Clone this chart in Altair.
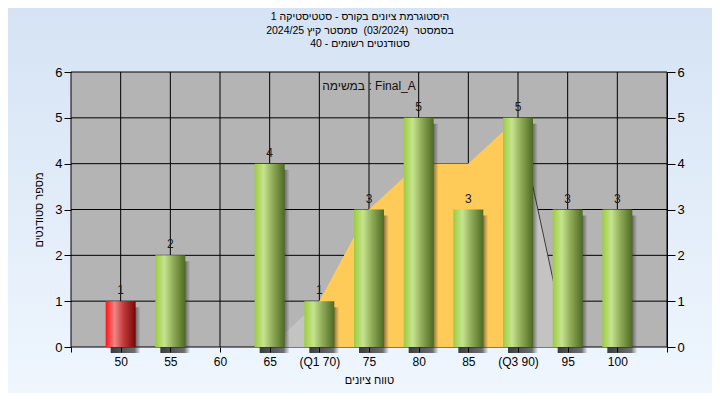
import altair as alt
import pandas as pd

# ---------------- data ----------------
grades = [50, 55, 60, 65, 70, 75, 80, 85, 90, 95, 100]
counts = [1, 2, 0, 4, 1, 3, 5, 3, 5, 3, 3]
tick_labels = ["50", "55", "60", "65", "(Q1 70)", "75", "80", "85", "(Q3 90)", "95", "100"]
x_grid = [45, 50, 55, 60, 65, 70, 75, 80, 85, 90, 95, 100, 105]
y_ticks = [0, 1, 2, 3, 4, 5, 6]
curve_grades = [65, 70, 75, 80, 85, 90, 95]
curve_counts = [0, 1, 3, 4, 4, 5, 0]
q1, q3 = 70, 90
pass_mark = 55

title_lines = [
    "היסטוגרמת ציונים בקורס - סטטיסטיקה 1",
    "בסמסטר\u00a0 (03/2024)\u00a0 סמסטר קיץ 2024/25",
    "סטודנטים רשומים - 40",
]
x_title = "טווח ציונים"
y_title = "מספר סטודנטים"
task_text = "במשימה : Final_A"

# ---------------- layout ----------------
W, H = 596, 275
PAD = {"left": 63, "top": 64, "right": 45, "bottom": 46}
FONT = "Liberation Sans"

bars_df = pd.DataFrame({"grade": grades, "count": counts})
curve_df = pd.DataFrame({"grade": curve_grades, "count": curve_counts})
xgrid_df = pd.DataFrame({"grade": x_grid})
ygrid_df = pd.DataFrame({"tick": y_ticks})

expr = "''"
for v, lab in reversed(list(zip(grades, tick_labels))):
    expr = f"datum.value == {v} ? '{lab}' : ({expr})"

xscale = alt.Scale(domain=[45, 105], nice=False, zero=False, padding=0)
yscale = alt.Scale(domain=[0, 6], nice=False, padding=0)

xaxis = alt.Axis(values=x_grid, labelExpr=expr, title=x_title, grid=False, domain=False,
                 tickSize=5, tickColor="#000", labelPadding=4, labelFontSize=12,
                 labelColor="#000", labelFont=FONT, labelFlush=False, labelAngle=0,
                 titleFont=FONT, titleFontSize=11, titleFontWeight="normal",
                 titleColor="#000", titlePadding=7, zindex=1)

left_axis = alt.Axis(values=y_ticks, orient="left", title=y_title, grid=False, domain=False,
                     tickSize=7, tickColor="#000", labelPadding=2, labelFontSize=13,
                     labelColor="#000", labelFont=FONT, titleFont=FONT, titleFontSize=11,
                     titleFontWeight="normal", titleColor="#000", titlePadding=10, zindex=1)
right_axis = alt.Axis(values=y_ticks, orient="right", title="", grid=False, domain=True,
                      domainColor="#000", tickSize=8, tickColor="#000", labelPadding=2,
                      labelFontSize=13, labelColor="#000", labelFont=FONT, zindex=1)


def X(field="grade"):
    return alt.X(f"{field}:Q", scale=xscale, axis=xaxis)


def Y(field="count", axis=None):
    return alt.Y(f"{field}:Q", scale=yscale, axis=axis)


one = alt.Data(values=[{}])

bg = alt.Chart(one).mark_rect(
    fill=alt.Gradient(gradient="linear", x1=0, y1=0, x2=0, y2=1,
                      stops=[alt.GradientStop(color="#d5e3f4", offset=0),
                             alt.GradientStop(color="#eff6fe", offset=1)])
).encode(x=alt.value(-PAD["left"]), x2=alt.value(W + PAD["right"]),
         y=alt.value(-PAD["top"]), y2=alt.value(H + PAD["bottom"]))

plot_bg = alt.Chart(one).mark_rect(fill="#b4b4b4").encode(
    x=alt.value(0), x2=alt.value(W), y=alt.value(0), y2=alt.value(H))

vgrid = alt.Chart(xgrid_df).mark_rule(color="#000", strokeWidth=1).encode(
    x=X(), y=alt.value(0), y2=alt.value(H))

hgrid = alt.Chart(ygrid_df).mark_rule(color="#000", strokeWidth=1).encode(
    y=Y("tick", left_axis), x=alt.value(0), x2=alt.value(W))

gray_area = alt.Chart(curve_df).mark_area(color="#c3c3c3", opacity=1).encode(
    x=X(), y=Y())

yellow_area = alt.Chart(curve_df).transform_filter(
    f"datum.grade >= {q1} && datum.grade <= {q3}"
).mark_area(color="#ffcb58", opacity=1).encode(x=X(), y=Y())

edge_line = alt.Chart(curve_df).transform_filter(
    f"datum.grade >= {q3}"
).mark_line(color="#3a3a3a", strokeWidth=1).encode(x=X(), y=Y())

shadow = alt.Chart(bars_df).transform_filter("datum.count > 0").mark_bar(
    size=30, xOffset=5, yOffset=6, y2Offset=1,
    fill=alt.Gradient(gradient="linear", x1=0, y1=0, x2=1, y2=0,
                      stops=[alt.GradientStop(color="rgba(40,40,40,0.9)", offset=0),
                             alt.GradientStop(color="rgba(40,40,40,0.65)", offset=0.8),
                             alt.GradientStop(color="rgba(60,60,60,0)", offset=1)])
).encode(x=X(), y=Y())

green = alt.Chart(bars_df).transform_filter(
    f"datum.count > 0 && datum.grade >= {pass_mark}"
).mark_bar(
    size=30,
    fill=alt.Gradient(gradient="linear", x1=0, y1=0, x2=1, y2=0,
                      stops=[alt.GradientStop(color="#9ccc3f", offset=0),
                             alt.GradientStop(color="#c6e48e", offset=0.3),
                             alt.GradientStop(color="#8fab58", offset=0.6),
                             alt.GradientStop(color="#4d6a22", offset=1)])
).encode(x=X(), y=Y("count", right_axis))

red = alt.Chart(bars_df).transform_filter(
    f"datum.count > 0 && datum.grade < {pass_mark}"
).mark_bar(
    size=30,
    fill=alt.Gradient(gradient="linear", x1=0, y1=0, x2=1, y2=0,
                      stops=[alt.GradientStop(color="#ff1515", offset=0),
                             alt.GradientStop(color="#f08585", offset=0.3),
                             alt.GradientStop(color="#c03a3a", offset=0.6),
                             alt.GradientStop(color="#780808", offset=1)])
).encode(x=X(), y=Y())

labels = alt.Chart(bars_df).transform_filter("datum.count > 0").mark_text(
    baseline="bottom", dy=-4, fontSize=12, font=FONT, color="#1a1a1a"
).encode(x=X(), y=Y(), text=alt.Text("count:Q"))

task = alt.Chart(one).mark_text(
    fontSize=12, font=FONT, color="#111", baseline="middle", align="center"
).encode(x=alt.value(W / 2), y=alt.value(14), text=alt.value(task_text))

title = alt.Chart(one).mark_text(
    fontSize=10.5, font=FONT, color="#000", baseline="top", align="center", lineHeight=13.5
).encode(x=alt.value(W / 2 - 9), y=alt.value(-60), text=alt.value(title_lines))

chart = alt.layer(
    bg, plot_bg, vgrid, hgrid, gray_area, yellow_area, edge_line,
    shadow, green, red, labels, task, title
).resolve_axis(y="independent").properties(
    width=W, height=H,
    autosize=alt.AutoSizeParams(type="none"),
    padding=PAD,
).configure_view(stroke="transparent")

chart.save("out.html", embed_options={"renderer": "svg", "actions": False})
